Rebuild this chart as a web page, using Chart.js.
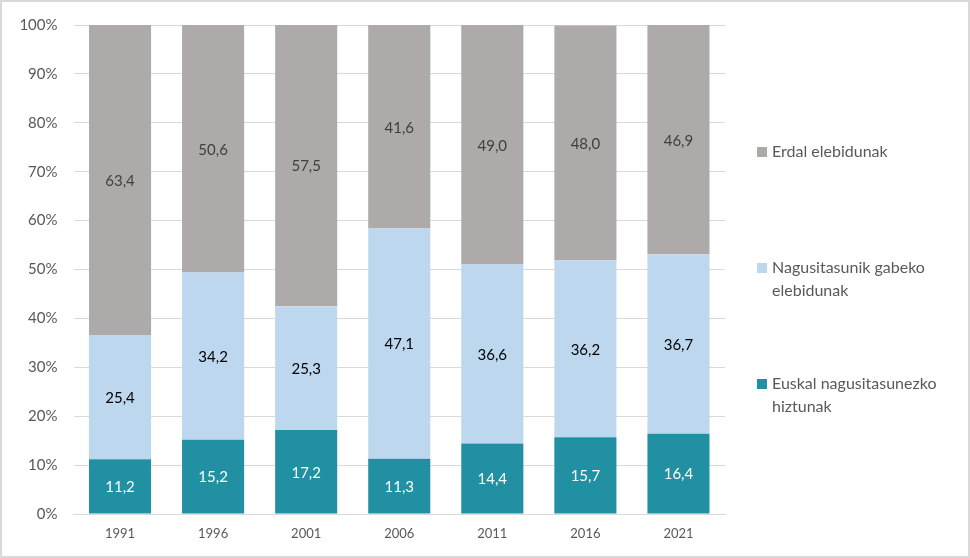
<!DOCTYPE html>
<html>
<head>
<meta charset="utf-8">
<script src="https://cdn.jsdelivr.net/npm/chart.js@4"></script>
<style>
  html, body { margin: 0; padding: 0; background: #fff; }
  #wrap { width: 970px; height: 558px; position: relative; }
</style>
</head>
<body>
<div id="wrap"><canvas id="chart"></canvas></div>
<script>
const YEARS = ['1991', '1996', '2001', '2006', '2011', '2016', '2021'];
const EUSKAL = [11.2, 15.2, 17.2, 11.3, 14.4, 15.7, 16.4];
const NAGUSITASUNIK_GABE = [25.4, 34.2, 25.3, 47.1, 36.6, 36.2, 36.7];
const ERDAL = [63.4, 50.6, 57.5, 41.6, 49.0, 48.0, 46.9];
const SERIES_NAMES = ['Euskal nagusitasunezko hiztunak', 'Nagusitasunik gabeko elebidunak', 'Erdal elebidunak'];

const FONT = 'Lato, "Open Sans", sans-serif';
const fmt = v => v.toFixed(1).replace('.', ',');

// labels inside each bar segment
const segmentLabels = {
    id: 'segmentLabels',
    afterDatasetsDraw(chart) {
        const ctx = chart.ctx;
        ctx.save();
        ctx.font = '15px ' + FONT;
        ctx.textAlign = 'center';
        ctx.textBaseline = 'middle';
        chart.data.datasets.forEach((ds, i) => {
            chart.getDatasetMeta(i).data.forEach((bar, j) => {
                const y = (bar.y + bar.base) / 2;
                ctx.fillStyle = ds.labelColor;
                ctx.fillText(fmt(ds.data[j]), bar.x, y + 1);
            });
        });
        ctx.restore();
    }
};

// legend on the right, top series first, wrapped text
const sideLegend = {
    id: 'sideLegend',
    afterDraw(chart) {
        const ctx = chart.ctx;
        const rows = [152, 268, 384];
        const maxW = 190;
        ctx.save();
        ctx.font = '16px ' + FONT;
        ctx.textBaseline = 'middle';
        ctx.textAlign = 'left';
        const ds = chart.data.datasets.slice().reverse();
        ds.forEach((d, k) => {
            const words = d.label.split(' ');
            const lines = [];
            let line = '';
            words.forEach(w => {
                const test = line ? line + ' ' + w : w;
                if (ctx.measureText(test).width > maxW && line) {
                    lines.push(line);
                    line = w;
                } else {
                    line = test;
                }
            });
            lines.push(line);
            const y0 = rows[k];
            ctx.fillStyle = d.backgroundColor;
            ctx.fillRect(757, y0 - 5, 10, 10);
            ctx.fillStyle = '#595959';
            lines.forEach((l, n) => ctx.fillText(l, 772, y0 + n * 23));
        });
        ctx.restore();
    }
};

const frame = {
    id: 'frame',
    beforeDraw(chart) {
        const ctx = chart.ctx;
        ctx.save();
        ctx.fillStyle = '#fff';
        ctx.fillRect(0, 0, chart.width, chart.height);
        ctx.strokeStyle = '#d9d9d9';
        ctx.lineWidth = 2;
        ctx.strokeRect(1, 1, chart.width - 2, chart.height - 2);
        ctx.restore();
    }
};

new Chart(document.getElementById('chart'), {
    type: 'bar',
    data: {
        labels: YEARS,
        datasets: [
            { label: SERIES_NAMES[0], data: EUSKAL, backgroundColor: '#2290a3', labelColor: '#ffffff' },
            { label: SERIES_NAMES[1], data: NAGUSITASUNIK_GABE, backgroundColor: '#bdd7ee', labelColor: '#000000' },
            { label: SERIES_NAMES[2], data: ERDAL, backgroundColor: '#aeaaaa', labelColor: '#404040' }
        ]
    },
    options: {
        responsive: true,
        maintainAspectRatio: false,
        animation: false,
        devicePixelRatio: 1,
        layout: { padding: { top: 23, right: 245, left: 0, bottom: 0 } },
        datasets: { bar: { categoryPercentage: 1, barPercentage: 0.667 } },
        scales: {
            x: {
                stacked: true,
                grid: { display: false, drawTicks: false },
                border: { color: '#d9d9d9' },
                ticks: { color: '#595959', font: { family: FONT, size: 13 }, padding: 12 },
                afterFit: s => { s.height = 44; }
            },
            y: {
                stacked: true,
                min: 0,
                max: 100,
                grid: { color: '#d9d9d9', drawTicks: false },
                border: { display: false },
                ticks: {
                    stepSize: 10,
                    color: '#595959',
                    font: { family: FONT, size: 15 },
                    padding: 16,
                    callback: v => v + '%'
                },
                afterFit: s => { s.width = 73.5; }
            }
        },
        plugins: {
            legend: { display: false },
            tooltip: { enabled: false }
        }
    },
    plugins: [frame, segmentLabels, sideLegend]
});
</script>
</body>
</html>
